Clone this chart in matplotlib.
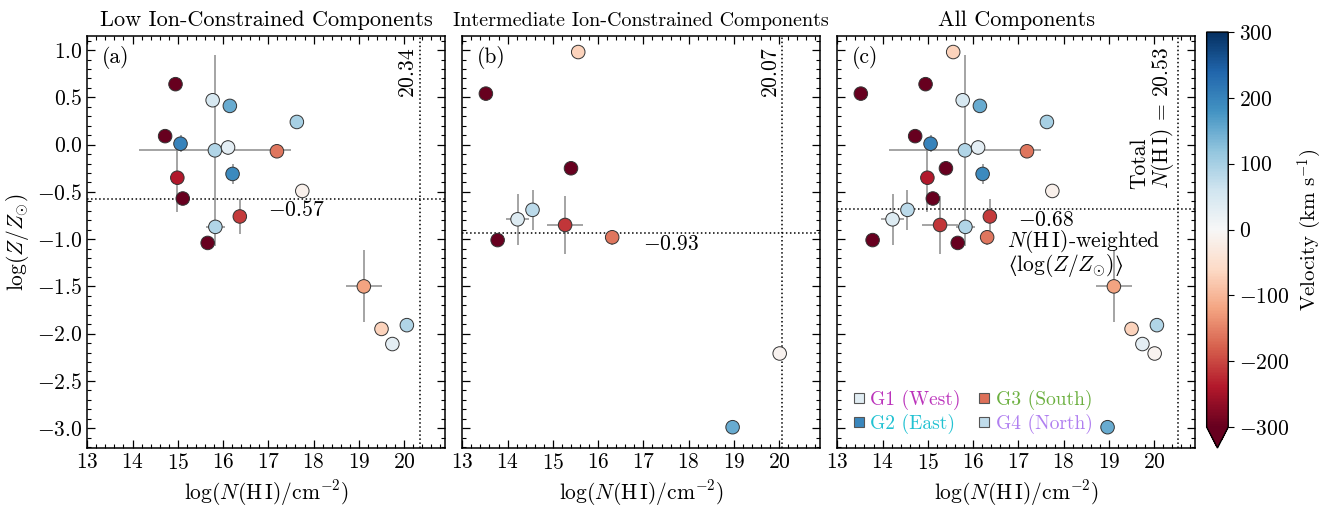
import numpy as np
import matplotlib
matplotlib.use("Agg")
import matplotlib.pyplot as plt
from matplotlib.colors import Normalize
from matplotlib.lines import Line2D
from matplotlib.ticker import MultipleLocator

plt.rcParams['font.family'] = 'serif'
plt.rcParams['font.serif'] = ['cmr10']
plt.rcParams['mathtext.fontset'] = 'cm'
plt.rcParams['axes.formatter.use_mathtext'] = True
plt.rcParams['axes.unicode_minus'] = True
plt.rcParams['font.size'] = 15.5

# Low ion-constrained components (panel a)
low_logN = [14.95, 15.77, 16.15, 17.63, 14.72, 15.06, 15.82, 16.11, 17.19, 14.99,
            16.21, 17.75, 15.11, 16.37, 15.83, 15.66, 19.11, 19.50, 19.74, 20.06]
low_logZ = [0.64, 0.47, 0.41, 0.24, 0.09, 0.01, -0.06, -0.03, -0.07, -0.35,
            -0.31, -0.49, -0.57, -0.76, -0.87, -1.04, -1.50, -1.95, -2.11, -1.91]
low_xerr = [0, 0, 0, 0, 0, 0, 1.68, 0, 0, 0, 0, 0, 0, 0, 0.21, 0, 0.40, 0, 0, 0]
low_yerr = [0, 0, 0, 0, 0, 0.09, 1.01, 0.08, 0, 0.36, 0.11, 0, 0, 0.19, 0, 0, 0.38, 0, 0, 0]
low_vel = [-320, 50, 150, 100, -320, 200, 90, 30, -160, -240,
           190, -15, -310, -210, 90, -320, -120, -70, 30, 90]

# Intermediate ion-constrained components (panel b)
int_logN = [15.56, 13.52, 15.40, 14.55, 14.22, 15.27, 13.78, 16.31, 20.01, 18.97]
int_logZ = [0.98, 0.54, -0.25, -0.69, -0.79, -0.85, -1.01, -0.98, -2.21, -2.99]
int_xerr = [0, 0, 0, 0.15, 0.25, 0.40, 0, 0, 0, 0]
int_yerr = [0, 0, 0, 0.21, 0.27, 0.31, 0, 0.08, 0, 0]
int_vel = [-70, -320, -300, 80, 40, -215, -320, -160, -10, 150]

titles = ['Low Ion-Constrained Components', 'Intermediate Ion-Constrained Components', 'All Components']
title_sizes = [16, 14.5, 16]
panel_tags = ['(a)', '(b)', '(c)']
weighted_Z = [-0.57, -0.93, -0.68]
total_NHI = [20.34, 20.07, 20.53]

group_names = ['G1 (West)', 'G2 (East)', 'G3 (South)', 'G4 (North)']
group_vel = [35, 195, -165, 75]
group_text_colors = ['#bb33bb', '#22c2d2', '#6cb040', '#b07ff0']

cmap = plt.get_cmap('RdBu')
norm = Normalize(vmin=-300, vmax=300)

data = [
    (low_logN, low_logZ, low_xerr, low_yerr, low_vel),
    (int_logN, int_logZ, int_xerr, int_yerr, int_vel),
    (low_logN + int_logN, low_logZ + int_logZ, low_xerr + int_xerr,
     low_yerr + int_yerr, low_vel + int_vel),
]

fig = plt.figure(figsize=(13.32, 5.11), dpi=100)
lefts = [0.0655, 0.3471, 0.6286]
axes = [fig.add_axes([l, 0.1233, 0.2685, 0.8063]) for l in lefts]
cax = fig.add_axes([0.9059, 0.1233, 0.0162, 0.814])

for i, ax in enumerate(axes):
    N, Z, xe, ye, v = data[i]
    ax.errorbar(N, Z, xerr=xe, yerr=ye, fmt='none', ecolor='#8c8c8c', elinewidth=1.1, zorder=1)
    sc = ax.scatter(N, Z, c=v, cmap=cmap, norm=norm, s=95, edgecolors='#333333',
                    linewidths=0.7, zorder=3)
    ax.axhline(weighted_Z[i], color='k', ls=':', lw=1.1, zorder=2)
    ax.axvline(total_NHI[i], color='k', ls=':', lw=1.1, zorder=2)
    ax.set_xlim(13, 20.9)
    ax.set_ylim(-3.21, 1.15)
    ax.xaxis.set_major_locator(MultipleLocator(1))
    ax.xaxis.set_minor_locator(MultipleLocator(0.2))
    ax.yaxis.set_major_locator(MultipleLocator(0.5))
    ax.yaxis.set_minor_locator(MultipleLocator(0.1))
    ax.tick_params(which='both', direction='in', top=True, right=True, labelsize=15.5)
    ax.tick_params(which='major', length=6, width=0.9)
    ax.tick_params(which='minor', length=3, width=0.8)
    for sp in ax.spines.values():
        sp.set_linewidth(1.1)
    ax.set_title(titles[i], fontsize=title_sizes[i], pad=7)
    ax.set_xlabel(r'$\log(N(\mathrm{H\,I})/\mathrm{cm}^{-2})$', fontsize=15.5)
    ax.text(0.04, 0.975, panel_tags[i], transform=ax.transAxes, ha='left', va='top', fontsize=15.5)
    ax.text(17.0, weighted_Z[i] - 0.12, r'$%.2f$' % weighted_Z[i], ha='left', va='center', fontsize=15.5)
    if i < 2:
        ax.text(total_NHI[i] - 0.04, 1.03, r'$%.2f$' % total_NHI[i], rotation=90,
                ha='right', va='top', fontsize=15.5)
    else:
        ax.text(total_NHI[i] - 0.05, 1.03, 'Total\n' + r'$N(\mathrm{H\,I})$ = %.2f' % total_NHI[i],
                rotation=90, ha='right', va='top', multialignment='left', fontsize=15.5,
                linespacing=1.0)
        ax.text(16.74, -1.02, r'$N(\mathrm{H\,I})$-weighted', ha='left', va='center', fontsize=15.5)
        ax.text(16.78, -1.28, '$\u27e8\\log(Z/Z_{\\odot})\u27e9$', ha='left', va='center',
                fontsize=15.5)
        handles = [Line2D([], [], marker='s', ls='', ms=7, mfc=cmap(norm(gv)), mec='#555555', mew=0.8)
                   for gv in group_vel]
        ax.legend(handles, group_names, ncol=2, loc='lower left', bbox_to_anchor=(0.0, 0.005),
                  frameon=False, handletextpad=0.1, columnspacing=0.7, handlelength=1.0,
                  labelspacing=0.2, borderaxespad=0.2, fontsize=14, labelcolor=group_text_colors)

axes[0].set_ylabel(r'$\log(Z/Z_{\odot})$', fontsize=15.5)
for ax in axes[1:]:
    ax.tick_params(labelleft=False)

cb = fig.colorbar(sc, cax=cax, extend='min', extendfrac=0.053)
cb.set_ticks([-300, -200, -100, 0, 100, 200, 300])
cb.ax.tick_params(labelsize=15.5, direction='out', length=4)
cb.set_label(r'Velocity (km s$^{-1}$)', fontsize=15, labelpad=5)
cb.outline.set_linewidth(1.0)

fig.savefig('out.png', dpi=100)
